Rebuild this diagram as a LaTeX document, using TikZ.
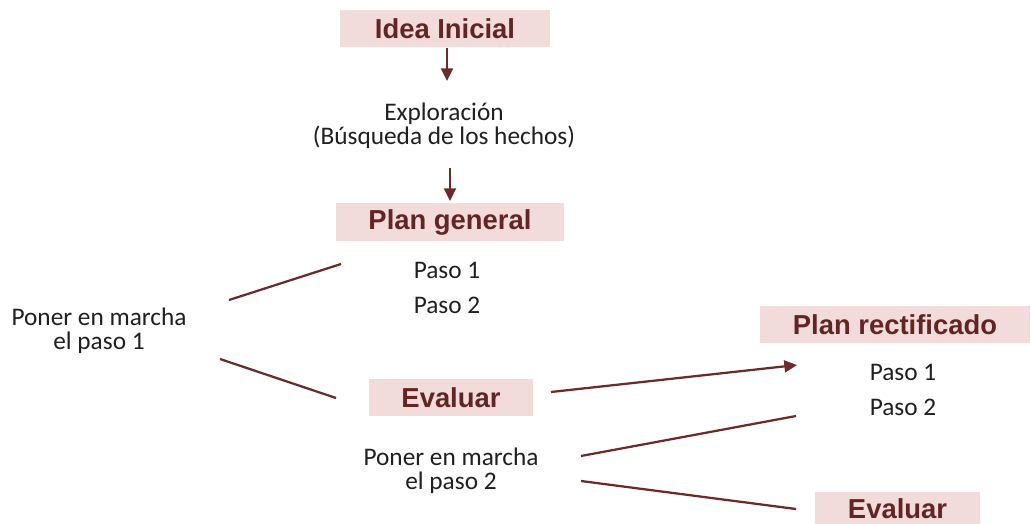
\documentclass[tikz,border=0pt]{standalone}
\usepackage{fontspec}
\setmainfont{Carlito}
\newfontfamily\boxfont{Liberation Sans}
\usetikzlibrary{arrows.meta}
\definecolor{boxpink}{HTML}{F2DCDB}
\definecolor{boxtext}{HTML}{632523}
\definecolor{linered}{HTML}{6B2B2B}
\definecolor{plaintext}{HTML}{1F1F1F}
\tikzset{
  stage/.style={fill=boxpink, text=boxtext, font=\boxfont\bfseries\fontsize{19.5}{22}\selectfont,
    minimum height=0.925cm, inner sep=0pt},
  plain/.style={text=plaintext, font=\fontsize{18}{17}\selectfont, align=center},
  link/.style={linered, line width=1.6pt},
  flow/.style={link, -{Triangle[length=9pt,width=8.5pt]}}
}
\begin{document}
\begin{tikzpicture}[x=0.025cm, y=-0.025cm]
    \useasboundingbox (0,0) rectangle (1031,524);

    % Define the boxes
    \node[stage, minimum width=5.25cm] (idea) at (445,28.5) {Idea Inicial};
    \node[stage, minimum width=5.7cm] (plan) at (450,222) {Plan general};
    \node[stage, minimum width=4.1cm] (eval) at (451,397.5) {Evaluar};
    \node[stage, minimum width=6.75cm] (rect) at (895,324.5) {Plan rectificado};
    \node[stage, minimum width=4.125cm, minimum height=0.85cm] (evaltwo) at (897.5,509) {Evaluar};

    % Label the texts
    \node[plain] (explor) at (444,126) {Exploración\\(Búsqueda de los hechos)};
    \node[plain] (pasoA) at (447,270) {Paso 1};
    \node[plain] (pasoB) at (447,305) {Paso 2};
    \node[plain] (marchaA) at (99,331) {Poner en marcha\\el paso 1};
    \node[plain] (pasoC) at (903,372) {Paso 1};
    \node[plain] (pasoD) at (903,407) {Paso 2};
    \node[plain] (marchaB) at (451,471) {Poner en marcha\\el paso 2};

    % Define the free ends of the connectors
    \coordinate (a1) at (447,48);   \coordinate (a2) at (447,81);
    \coordinate (b1) at (450,168);  \coordinate (b2) at (450,201);
    \coordinate (c1) at (229,300);  \coordinate (c2) at (341,264);
    \coordinate (d1) at (220,359);  \coordinate (d2) at (336,398);
    \coordinate (e1) at (551,392);  \coordinate (e2) at (797,365);
    \coordinate (f1) at (581,456);  \coordinate (f2) at (796,416);
    \coordinate (g1) at (581,481);  \coordinate (g2) at (796,509);

    % Draw the connectors
    \draw[flow] (a1) -- (a2);
    \draw[flow] (b1) -- (b2);
    \draw[link] (c1) -- (c2);
    \draw[link] (d1) -- (d2);
    \draw[flow] (e1) -- (e2);
    \draw[link] (f1) -- (f2);
    \draw[link] (g1) -- (g2);
\end{tikzpicture}
\end{document}
